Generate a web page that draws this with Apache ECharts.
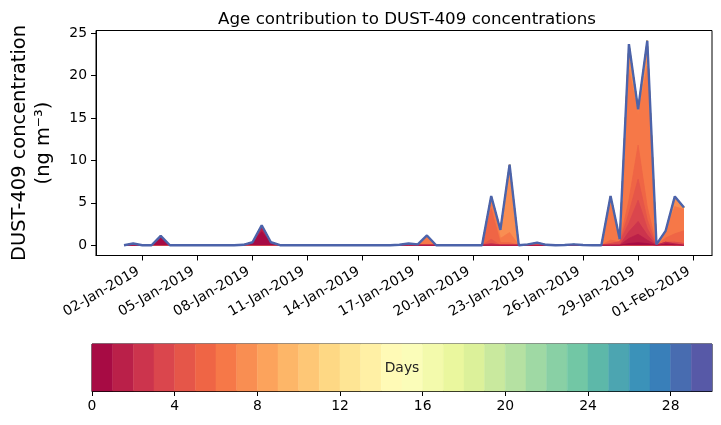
<!DOCTYPE html>
<html><head><meta charset="utf-8">
<script src="https://cdn.jsdelivr.net/npm/echarts@6/dist/echarts.min.js"></script>
<style>html,body{margin:0;padding:0;background:#fff}#c{width:721px;height:425px}</style>
</head><body><div id="c"></div>
<script>
// ---- data: contribution (ng m-3) per age bin, 12-hourly from 01-Jan-2019 00:00 ----
const startTime = Date.UTC(2019, 0, 1, 0, 0);
const stepHours = 12;
const noContribution = [0,0,0,0,0,0,0,0,0,0, 0,0,0,0,0,0,0,0,0,0, 0,0,0,0,0,0,0,0,0,0, 0,0,0,0,0,0,0,0,0,0, 0,0,0,0,0,0,0,0,0,0, 0,0,0,0,0,0,0,0,0,0, 0,0];
const bin00 = [0,0,0,0,0.9,0,0,0,0,0, 0,0,0,0,0.25,1.6,0.25,0,0,0, 0,0,0,0,0,0,0,0,0,0, 0,0,0,0,0,0,0,0,0,0, 0,0,0,0,0,0,0,0,0,0, 0,0,0,0,0,0.2,0.3,0.2,0,0.15, 0.05,0];
const bin01 = [0,0,0,0,0.2,0,0,0,0,0, 0,0,0,0.05,0.1,0.6,0.1,0,0,0, 0,0,0,0,0,0,0,0,0,0, 0,0,0,0,0,0,0,0,0,0, 0,0,0,0,0,0,0,0,0,0, 0,0,0,0,0,0.6,1.0,0.4,0,0.2, 0.1,0];
const bin02 = [0,0,0,0,0,0,0,0,0,0, 0,0,0,0,0,0.15,0,0,0,0, 0,0,0,0,0,0,0,0,0,0, 0,0.1,0,0,0,0,0,0,0,0, 0.2,0,0,0,0,0,0,0,0,0, 0,0,0,0,0,0.8,1.5,0.6,0,0, 0,0];
const bin03 = [0,0,0,0,0,0,0,0,0,0, 0,0,0,0,0,0,0,0,0,0, 0,0,0,0,0,0,0,0,0,0, 0.05,0.1,0,0,0,0,0,0,0,0, 0,0,0,0,0,0,0,0,0,0, 0,0,0,0.2,0.4,1.0,2.5,0.8,0,0, 0.2,0.2];
const bin04 = [0,0,0,0,0,0,0,0,0,0, 0,0,0,0,0,0,0,0,0,0, 0,0,0,0,0,0,0,0,0,0, 0,0,0,0,0,0,0,0,0,0, 0.5,0,0,0,0,0,0,0,0,0, 0,0,0,0,0,1.2,2.5,1.0,0,0, 0,0];
const bin05 = [0,0,0,0,0,0,0,0,0,0, 0,0,0,0,0,0,0,0,0,0, 0,0,0,0,0,0,0,0,0,0, 0,0,0,0,0,0,0,0,0,0, 3.6,0.3,0.3,0,0,0,0,0,0,0, 0,0,0,0.4,0,1.5,4.0,1.5,0,0.5, 1.0,1.5];
const bin06 = [0,0.15,0,0,0,0,0,0,0,0, 0,0,0,0,0,0,0,0,0,0, 0,0,0,0,0,0,0,0,0,0, 0,0,0.1,1.15,0,0,0,0,0,0, 1.5,0.5,1.2,0,0,0,0,0,0,0, 0,0,0,4.2,0.3,15.4,3.7,16.6,0.1,0.85, 3.2,2.5];
const bin07 = [0,0.05,0,0,0,0,0,0,0,0, 0,0,0,0,0,0,0,0,0,0, 0,0,0,0,0,0,0,0,0,0, 0,0,0,0,0,0,0,0,0,0, 0,1.0,7.5,0,0,0,0,0,0,0, 0,0,0,1.0,0,3.0,0.5,2.5,0,0, 1.2,0.25];
const bin08 = [0,0,0,0,0,0,0,0,0,0, 0,0,0,0,0,0,0,0,0,0, 0,0,0,0,0,0,0,0,0,0, 0,0,0,0,0,0,0,0,0,0, 0,0,0.5,0,0,0,0,0,0,0, 0,0,0,0,0,0,0,0.5,0,0, 0,0];
const bin13 = [0,0,0,0,0,0,0,0,0,0, 0,0,0,0,0,0,0,0,0,0, 0,0,0,0,0,0,0,0,0,0, 0,0,0,0,0,0,0,0,0,0, 0,0,0,0,0.05,0.15,0.02,0,0,0, 0,0,0,0,0,0,0,0,0,0, 0,0];
const bin14 = [0,0,0,0,0,0,0,0,0,0, 0,0,0,0,0,0,0,0,0,0, 0,0,0,0,0,0,0,0,0,0, 0,0,0,0,0,0,0,0,0,0, 0,0,0,0,0.05,0.15,0.03,0,0,0, 0,0,0,0,0,0,0,0,0,0, 0,0];
const bin21 = [0,0,0,0,0,0,0,0,0,0, 0,0,0,0,0,0,0,0,0,0, 0,0,0,0,0,0,0,0,0,0, 0,0,0,0,0,0,0,0,0,0, 0,0,0,0,0,0,0,0,0.03,0.1, 0.02,0,0,0,0,0,0,0,0,0, 0,0];
const ageSeries = [bin00, bin01, bin02, bin03, bin04, bin05, bin06, bin07, bin08,
  noContribution, noContribution, noContribution, noContribution, bin13, bin14,
  noContribution, noContribution, noContribution, noContribution, noContribution, noContribution,
  bin21, noContribution, noContribution, noContribution, noContribution, noContribution,
  noContribution, noContribution, noContribution];
const tickLabels = ['02-Jan-2019','05-Jan-2019','08-Jan-2019','11-Jan-2019','14-Jan-2019','17-Jan-2019','20-Jan-2019','23-Jan-2019','26-Jan-2019','29-Jan-2019','01-Feb-2019'];
const yTicks = [0, 5, 10, 15, 20, 25];
const colorbarEdges = [0,1,2,3,4,5,6,7,8,9,10,11,12,13,14,15,16,17,18,19,20,21,22,23,24,25,26,27,28,29,30];
const colorbarTicks = [0, 4, 8, 12, 16, 20, 24, 28];

// ---- helpers ----
const MONTHS = {Jan:0, Feb:1, Mar:2, Apr:3, May:4, Jun:5, Jul:6, Aug:7, Sep:8, Oct:9, Nov:10, Dec:11};
function parseLabel(s) { const p = s.split('-'); return Date.UTC(+p[2], MONTHS[p[1]], +p[0]); }
const tickTimes = tickLabels.map(parseLabel);
const times = bin00.map((_, k) => startTime + k * stepHours * 3600e3);
const span = times[times.length - 1] - times[0];
const xMin = times[0] - 0.05 * span, xMax = times[times.length - 1] + 0.05 * span;
// rotated labels are right-aligned to the tick like matplotlib: nudge anchor ~4 px left
const labelNudge = 4 * (xMax - xMin) / 620;
const labelTimes = tickTimes.map(t => t - labelNudge);

// cumulative (stacked) tops of each age layer
const cumulative = [];
ageSeries.forEach((vals, i) => {
  cumulative.push(vals.map((v, k) => v + (i > 0 ? cumulative[i - 1][k] : 0)));
});

const spectralAnchors = ['#9e0142','#d53e4f','#f46d43','#fdae61','#fee08b','#ffffbf','#e6f598','#abdda4','#66c2a5','#3288bd','#5e4fa2'];
function hex2rgb(h) { return [parseInt(h.slice(1,3),16), parseInt(h.slice(3,5),16), parseInt(h.slice(5,7),16)]; }
function spectral(t) {
  const s = t * 10; const i = Math.min(9, Math.floor(s)); const f = s - i;
  const a = hex2rgb(spectralAnchors[i]), b = hex2rgb(spectralAnchors[i + 1]);
  return 'rgb(' + a.map((v, j) => Math.round(v + (b[j] - v) * f)).join(',') + ')';
}
const binColors = ageSeries.map((_, i) => spectral((i + 0.5) / ageSeries.length));

const FONT = 'DejaVu Sans';
const tickFont = 13.9;
const last = ageSeries.length - 1;

// draw layers from the top of the stack down, each filled to zero, so lower layers paint over upper ones
const series = [];
for (let i = last; i >= 0; i--) {
  series.push({
    type: 'line', xAxisIndex: 0, yAxisIndex: 0, symbol: 'none', showSymbol: false,
    data: cumulative[i].map((v, k) => [times[k], v]),
    lineStyle: { color: binColors[i], width: 0.8 },
    itemStyle: { color: binColors[i] },
    areaStyle: { color: binColors[i], opacity: 1 },
    emphasis: { disabled: true }, silent: true, z: 2
  });
}
// outline of the total
series.push({
  type: 'line', xAxisIndex: 0, yAxisIndex: 0, symbol: 'none', showSymbol: false,
  data: cumulative[last].map((v, k) => [times[k], v]),
  lineStyle: { color: '#4c63aa', width: 2.4 },
  itemStyle: { color: '#4c63aa' },
  emphasis: { disabled: true }, silent: true, z: 5
});

series.push({
  type: 'custom', xAxisIndex: 1, yAxisIndex: 1, silent: true,
  data: colorbarEdges.slice(0, -1).map((e, i) => [e, colorbarEdges[i + 1]]),
  renderItem: function (params, api) {
    const p0 = api.coord([api.value(0), 1]);
    const p1 = api.coord([api.value(1), 0]);
    const c = binColors[params.dataIndex];
    return { type: 'rect', shape: { x: p0[0], y: p0[1], width: p1[0] - p0[0], height: p1[1] - p0[1] },
      style: { fill: c, stroke: c, lineWidth: 0.5 } };
  }
});

function labelFor(v) {
  let best = 0;
  tickTimes.forEach((t, i) => { if (Math.abs(t - v) < Math.abs(tickTimes[best] - v)) best = i; });
  return tickLabels[best];
}

const option = {
  animation: false,
  backgroundColor: '#fff',
  textStyle: { fontFamily: FONT },
  title: { text: 'Age contribution to DUST-409 concentrations', left: 402, textAlign: 'center', top: 6,
    textStyle: { fontFamily: FONT, fontSize: 16.7, fontWeight: 'normal', color: '#000' } },
  grid: [
    { left: 92, right: 9, top: 30.5, bottom: 169.5, show: true, borderColor: '#000', borderWidth: 1, backgroundColor: 'transparent' },
    { left: 92, right: 9, top: 344, height: 47, show: true, borderColor: '#000', borderWidth: 1, backgroundColor: 'transparent' }
  ],
  xAxis: [
    { type: 'value', gridIndex: 0, min: xMin, max: xMax, scale: true,
      axisLine: { show: true, onZero: false, lineStyle: { color: '#000', width: 1 } },
      axisTick: { show: true, length: 5, lineStyle: { color: '#000' }, customValues: tickTimes },
      splitLine: { show: false },
      axisLabel: { customValues: labelTimes, rotate: 30, margin: 15, color: '#000', fontFamily: FONT, fontSize: tickFont,
        formatter: function (v) { return labelFor(v); } } },
    { type: 'value', gridIndex: 1, min: 0, max: 30,
      axisLine: { show: true, lineStyle: { color: '#000', width: 1 } },
      axisTick: { show: true, length: 5, lineStyle: { color: '#000' }, customValues: colorbarTicks },
      splitLine: { show: false },
      axisLabel: { customValues: colorbarTicks, margin: 8, color: '#000', fontFamily: FONT, fontSize: tickFont } }
  ],
  yAxis: [
    { type: 'value', gridIndex: 0, min: -1.21, max: 25.3,
      axisLine: { show: true, onZero: false, lineStyle: { color: '#000', width: 1 } },
      axisTick: { show: true, length: 5, lineStyle: { color: '#000' }, customValues: yTicks },
      splitLine: { show: false },
      axisLabel: { customValues: yTicks, margin: 9, color: '#000', fontFamily: FONT, fontSize: tickFont },
      name: 'DUST-409 concentration\n(ng m\u207B\u00B3)', nameLocation: 'middle', nameRotate: 90, nameGap: 40,
      nameTextStyle: { fontFamily: FONT, fontSize: 19.4, color: '#000', lineHeight: 24, align: 'center' } },
    { type: 'value', gridIndex: 1, min: 0, max: 1, show: false }
  ],
  graphic: [
    { type: 'text', x: 402, y: 368, style: { text: 'Days', fontFamily: FONT, fontSize: tickFont, fill: '#222', align: 'center', verticalAlign: 'middle' }, z: 100 }
  ],
  series: series
};
const chart = echarts.init(document.getElementById('c'));
chart.setOption(option);
</script>
</body></html>
